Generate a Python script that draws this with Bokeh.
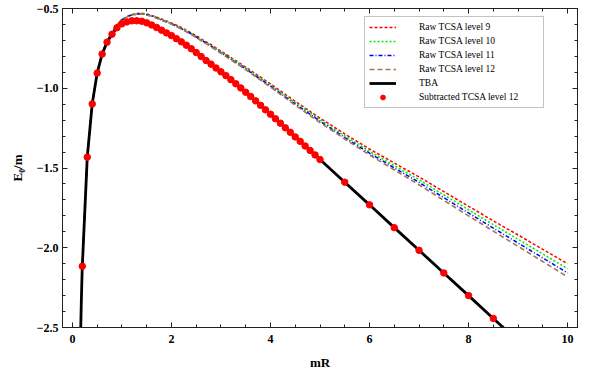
from bokeh.plotting import figure
from bokeh.models import (Range1d, FixedTicker, CustomJSTickFormatter, LinearAxis,
                          Legend, LegendItem)
from bokeh.embed import file_html
from bokeh.resources import INLINE

# ---------------- data ----------------
x_ticks = [0, 2, 4, 6, 8, 10]
x_minor = [i * 0.5 for i in range(0, 21)]
y_ticks = [-2.5, -2.0, -1.5, -1.0, -0.5]
y_minor = [round(-2.5 + 0.1 * i, 2) for i in range(0, 21)]

# subtracted TCSA level 12 (red dots)
sub_r = [0.2, 0.3, 0.4, 0.5, 0.6, 0.7, 0.8, 0.9, 1.0, 1.1, 1.2, 1.3, 1.4, 1.5, 1.6, 1.7,
         1.8, 1.9, 2.0, 2.1, 2.2, 2.3, 2.4, 2.5, 2.6, 2.7, 2.8, 2.9, 3.0, 3.1, 3.2, 3.3,
         3.4, 3.5, 3.6, 3.7, 3.8, 3.9, 4.0, 4.1, 4.2, 4.3, 4.4, 4.5, 4.6, 4.7, 4.8, 4.9,
         5.0, 5.5, 6.0, 6.5, 7.0, 7.5, 8.0, 8.5, 9.0, 9.5, 10.0]
sub_e = [-2.116, -1.432, -1.098, -0.905, -0.786, -0.711, -0.661, -0.621, -0.596, -0.584,
         -0.577, -0.577, -0.580, -0.590, -0.603, -0.619, -0.636, -0.653, -0.670, -0.689,
         -0.709, -0.730, -0.752, -0.776, -0.801, -0.826, -0.849, -0.873, -0.897, -0.921,
         -0.946, -0.972, -0.998, -1.025, -1.052, -1.079, -1.107, -1.135, -1.163, -1.191,
         -1.219, -1.248, -1.276, -1.305, -1.333, -1.362, -1.390, -1.418, -1.447, -1.589,
         -1.731, -1.874, -2.016, -2.158, -2.300, -2.443, -2.585, -2.727, -2.870]

# TBA line (same curve, continued steeply near mR -> 0)
tba_r = [0.15, 0.16, 0.17, 0.18, 0.19] + sub_r
tba_e = [-2.80, -2.63, -2.48, -2.34, -2.22] + sub_e

# raw TCSA curves
tcsa_r = [0.2, 0.3, 0.4, 0.5, 0.6, 0.7, 0.8, 0.9, 1.0, 1.1, 1.2, 1.3, 1.4, 1.5, 1.6, 1.7,
          1.8, 1.9, 2.0, 2.2, 2.4, 2.6, 2.8, 3.0, 3.5, 4.0, 4.5, 5.0, 5.5, 6.0, 6.5, 7.0,
          7.5, 8.0, 8.5, 9.0, 9.5, 10.0]
raw9 = [-2.116, -1.432, -1.098, -0.904, -0.783, -0.704, -0.648, -0.601, -0.569, -0.550,
        -0.537, -0.532, -0.530, -0.535, -0.543, -0.554, -0.566, -0.578, -0.590, -0.619,
        -0.652, -0.690, -0.727, -0.767, -0.867, -0.973, -1.082, -1.187, -1.286, -1.381,
        -1.469, -1.556, -1.648, -1.740, -1.831, -1.920, -2.010, -2.100]
raw10 = [-2.116, -1.432, -1.098, -0.904, -0.783, -0.704, -0.649, -0.602, -0.570, -0.551,
         -0.539, -0.534, -0.532, -0.537, -0.545, -0.557, -0.569, -0.581, -0.593, -0.623,
         -0.656, -0.694, -0.732, -0.772, -0.873, -0.981, -1.091, -1.197, -1.298, -1.395,
         -1.485, -1.574, -1.668, -1.762, -1.855, -1.947, -2.039, -2.131]
raw11 = [-2.116, -1.432, -1.098, -0.904, -0.783, -0.705, -0.649, -0.603, -0.571, -0.553,
         -0.540, -0.535, -0.534, -0.539, -0.547, -0.559, -0.571, -0.584, -0.596, -0.626,
         -0.659, -0.698, -0.736, -0.777, -0.879, -0.987, -1.099, -1.206, -1.309, -1.407,
         -1.499, -1.590, -1.686, -1.782, -1.877, -1.970, -2.064, -2.158]
raw12 = [-2.116, -1.432, -1.098, -0.904, -0.783, -0.705, -0.649, -0.603, -0.572, -0.554,
         -0.541, -0.537, -0.535, -0.541, -0.549, -0.561, -0.573, -0.586, -0.599, -0.629,
         -0.663, -0.702, -0.740, -0.781, -0.884, -0.993, -1.106, -1.215, -1.318, -1.418,
         -1.512, -1.605, -1.703, -1.800, -1.896, -1.991, -2.087, -2.182]

labels = ["Raw TCSA level 9", "Raw TCSA level 10", "Raw TCSA level 11",
          "Raw TCSA level 12", "TBA", "Subtracted TCSA level 12"]

# ---------------- figure ----------------
SERIF = "Liberation Serif"
p = figure(width=600, height=375, output_backend="svg", toolbar_location=None,
           x_range=Range1d(-0.2, 10.2), y_range=Range1d(-2.5, -0.5),
           min_border_left=62, min_border_right=23, min_border_top=8,
           min_border_bottom=48, x_axis_label="mR", y_axis_label="E\u2080/m")
p.grid.visible = False
p.outline_line_color = "#222222"
p.outline_line_width = 1
p.background_fill_color = "white"
p.border_fill_color = "white"

xt = FixedTicker(ticks=x_ticks, minor_ticks=x_minor)
yt = FixedTicker(ticks=y_ticks, minor_ticks=y_minor)


def style_axis(ax, ticker, show_labels, fmt_code):
    ax.ticker = ticker
    ax.axis_line_color = "#222222"
    ax.major_tick_in = 5
    ax.major_tick_out = 0
    ax.minor_tick_in = 3
    ax.minor_tick_out = 0
    ax.major_tick_line_color = "#222222"
    ax.minor_tick_line_color = "#222222"
    ax.formatter = CustomJSTickFormatter(code=fmt_code)
    ax.major_label_text_font = SERIF
    ax.major_label_text_font_style = "bold"
    ax.major_label_text_font_size = "12px"
    ax.major_label_text_color = "black"
    if show_labels:
        ax.axis_label_text_font = SERIF
        ax.axis_label_text_font_style = "bold"
        ax.axis_label_text_font_size = "13px"
        ax.axis_label_text_color = "black"
    else:
        ax.major_label_standoff = 0


xfmt = "return tick.toFixed(0);"
yfmt = "return tick.toFixed(1).replace('-', '\u2212');"
nofmt = "return '';"

style_axis(p.xaxis[0], xt, True, xfmt)
p.xaxis[0].major_label_standoff = 7
p.xaxis[0].axis_label_standoff = 9
style_axis(p.yaxis[0], yt, True, yfmt)
p.yaxis[0].major_label_standoff = 4
p.yaxis[0].axis_label_standoff = 9

top = LinearAxis()
style_axis(top, FixedTicker(ticks=x_ticks, minor_ticks=x_minor), False, nofmt)
p.add_layout(top, "above")
right = LinearAxis()
style_axis(right, FixedTicker(ticks=y_ticks, minor_ticks=y_minor), False, nofmt)
p.add_layout(right, "right")

# ---------------- glyphs ----------------
r9 = p.line(tcsa_r, raw9, line_color="#ff0000", line_width=1.5, line_dash="3 2")
r10 = p.line(tcsa_r, raw10, line_color="#00f000", line_width=1.6, line_dash="2 2")
r11 = p.line(tcsa_r, raw11, line_color="#0000ff", line_width=1.5, line_dash="4 2 1 2")
r12 = p.line(tcsa_r, raw12, line_color="#a07850", line_width=1.6, line_dash="5 3")
tba = p.line(tba_r, tba_e, line_color="black", line_width=2.8)
dots = p.scatter(sub_r, sub_e, size=6.5, fill_color="#ff0000", line_color="#ff0000",
                 marker="circle")

legend = Legend(items=[LegendItem(label=lab, renderers=[r]) for lab, r in
                       zip(labels, [r9, r10, r11, r12, tba, dots])],
                location=(302, 219))
legend.label_text_font = SERIF
legend.label_text_font_size = "9.5px"
legend.label_text_color = "black"
legend.glyph_width = 27
legend.glyph_height = 12
legend.label_height = 12
legend.spacing = 2
legend.padding = 4
legend.margin = 0
legend.label_standoff = 23
legend.label_width = 120
legend.border_line_color = "#888888"
legend.border_line_width = 1
legend.background_fill_color = "white"
legend.background_fill_alpha = 1.0
p.add_layout(legend)

open("out.html", "w").write(file_html(p, INLINE))
